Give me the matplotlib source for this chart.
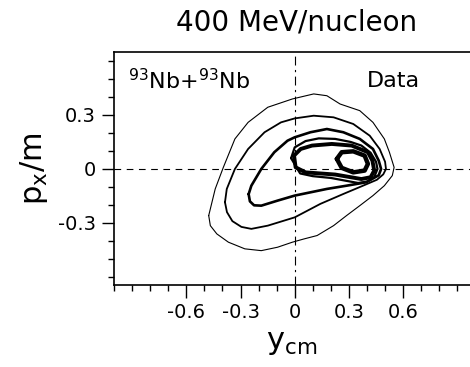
import numpy as np
import matplotlib
matplotlib.use('Agg')
import matplotlib.pyplot as plt

# contour lines: rapidity y_cm and transverse momentum p_x/m
c1_y = [-0.476, -0.44, -0.395, -0.331, -0.258, -0.149, -0.013, 0.105, 0.178, 0.251, 0.36, 0.433,
        0.496, 0.524, 0.55, 0.54, 0.496, 0.433, 0.36, 0.287, 0.215, 0.124, 0.051, -0.013, -0.095,
        -0.185, -0.276, -0.367, -0.431, -0.467]
c1_p = [-0.259, -0.111, 0.009, 0.167, 0.259, 0.343, 0.389, 0.417, 0.407, 0.361, 0.324, 0.259,
        0.167, 0.093, 0.009, -0.037, -0.093, -0.148, -0.204, -0.259, -0.315, -0.37, -0.389, -0.407,
        -0.435, -0.454, -0.444, -0.407, -0.361, -0.315]

c2_y = [-0.386, -0.376, -0.331, -0.258, -0.167, -0.076, 0.0, 0.105, 0.215, 0.324, 0.415, 0.47,
        0.5, 0.505, 0.49, 0.455, 0.378, 0.269, 0.142, 0.0, -0.149, -0.24, -0.295, -0.345, -0.375]
c2_p = [-0.185, -0.111, 0.0, 0.111, 0.204, 0.259, 0.281, 0.296, 0.287, 0.25, 0.185, 0.111,
        0.04, 0.0, -0.03, -0.06, -0.093, -0.139, -0.194, -0.269, -0.315, -0.333, -0.322, -0.29, -0.24]

c3_y = [-0.255, -0.24, -0.185, -0.113, -0.04, 0.0, 0.087, 0.178, 0.269, 0.36, 0.433, 0.465,
        0.478, 0.465, 0.396, 0.287, 0.178, 0.0, -0.095, -0.185, -0.225, -0.248]
c3_p = [-0.14, -0.093, 0.0, 0.093, 0.157, 0.176, 0.204, 0.222, 0.204, 0.167, 0.111, 0.046,
        0.0, -0.035, -0.074, -0.093, -0.111, -0.148, -0.176, -0.204, -0.202, -0.18]

c4_y = [-0.02, 0.0, 0.06, 0.133, 0.224, 0.31, 0.369, 0.42, 0.45, 0.458, 0.44, 0.4, 0.351,
        0.28, 0.2, 0.1, 0.03]
c4_p = [0.06, 0.12, 0.155, 0.17, 0.167, 0.15, 0.13, 0.09, 0.04, 0.0, -0.045, -0.07, -0.078,
        -0.065, -0.05, -0.04, -0.025]

c5_y = [-0.004, 0.005, 0.06, 0.224, 0.369, 0.42, 0.44, 0.43, 0.405, 0.315, 0.205, 0.096, 0.033]
c5_p = [0.074, 0.009, -0.019, -0.031, -0.056, -0.046, -0.009, 0.046, 0.093, 0.13, 0.139, 0.13, 0.111]

c6_y = [0.233, 0.26, 0.324, 0.387, 0.405, 0.387, 0.324, 0.26]
c6_p = [0.056, 0.093, 0.098, 0.074, 0.028, -0.009, -0.019, 0.006]

contours = [(c1_y, c1_p, 0.8), (c2_y, c2_p, 1.3), (c3_y, c3_p, 1.9),
            (c4_y, c4_p, 1.6), (c5_y, c5_p, 2.8), (c6_y, c6_p, 3.2)]

x_major = [-0.6, -0.3, 0, 0.3, 0.6]
x_labels = ['-0.6', '-0.3', '0', '0.3', '0.6']
y_major = [-0.3, 0, 0.3]
y_labels = ['-0.3', '0', '0.3']

fig = plt.figure(figsize=(4.7, 3.67), dpi=100)
ax = fig.add_axes([0.2426, 0.2234, 0.7574, 0.6349])

for xs, ps, lw in contours:
    ax.plot(xs + xs[:1], ps + ps[:1], color='black', lw=lw,
            solid_joinstyle='round', solid_capstyle='round')

ax.axhline(0, color='black', lw=0.8, ls=(0, (6, 5)))
ax.axvline(0, color='black', lw=0.8, ls=(0, (8, 4, 2, 4)))

ax.set_xlim(-1.0, 0.97)
ax.set_ylim(-0.645, 0.65)

ax.set_xticks(x_major)
ax.set_xticklabels(x_labels)
ax.set_yticks(y_major)
ax.set_yticklabels(y_labels)
ax.set_xticks(np.arange(-1.0, 0.95, 0.1), minor=True)
ax.set_yticks(np.arange(-0.6, 0.65, 0.1), minor=True)
ax.tick_params(which='major', direction='out', length=9, width=1, labelsize=14, pad=4)
ax.tick_params(which='minor', direction='out', length=4, width=1)

for s in ['top', 'left', 'bottom']:
    ax.spines[s].set_linewidth(1.2)
ax.spines['right'].set_visible(False)

ax.set_xlabel(r'$\mathregular{y_{cm}}$', fontsize=22, labelpad=4)
ax.set_ylabel(r'$\mathregular{p_x/m}$', fontsize=22, labelpad=6)

ax.text(0.039, 0.876, r'$\mathregular{^{93}Nb{+}^{93}Nb}$', transform=ax.transAxes,
        fontsize=16, ha='left', va='center')
ax.text(0.784, 0.876, 'Data', transform=ax.transAxes, fontsize=16, ha='center', va='center')

fig.text(0.632, 0.94, '400 MeV/nucleon', fontsize=20, ha='center', va='center')

fig.savefig('out.png', dpi=100)
